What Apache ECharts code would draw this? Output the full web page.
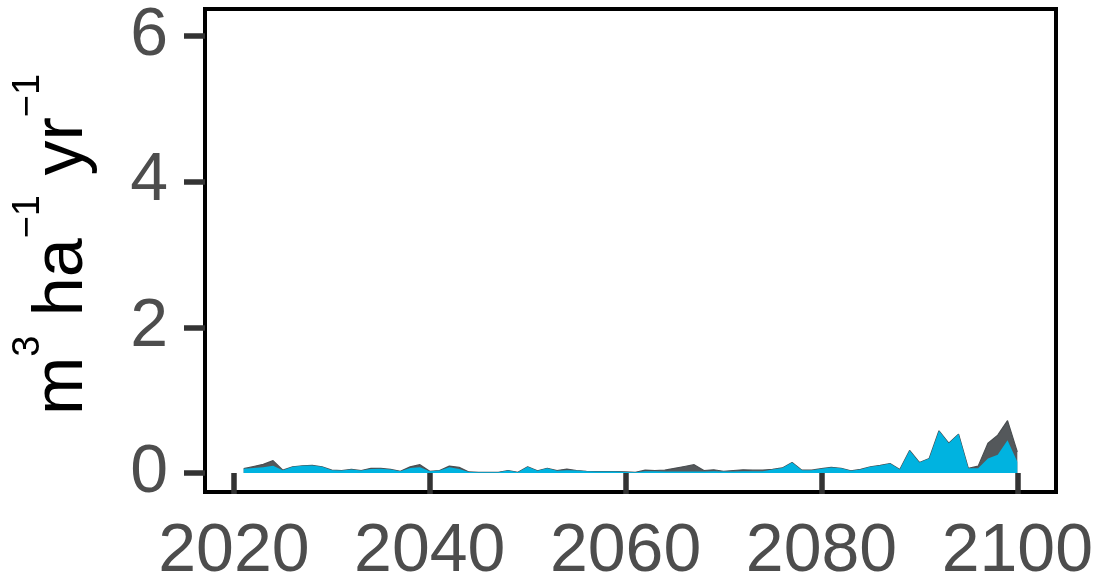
<!DOCTYPE html>
<html>
<head>
<meta charset="utf-8">
<script src="https://cdn.jsdelivr.net/npm/echarts@6/dist/echarts.min.js"></script>
<style>
  html, body { margin: 0; padding: 0; background: #fff; }
  #chart { width: 1097px; height: 580px; }
</style>
</head>
<body>
<div id="chart"></div>
<script>
// Years of the projection
const years = [];
for (let y = 2021; y <= 2100; y++) years.push(y);

// Total volume (grey area), m3 per ha per year
const totalValues = [
  0.06, 0.09, 0.12, 0.17, 0.04, 0.085, 0.10, 0.105, 0.085, 0.04,
  0.035, 0.05, 0.035, 0.065, 0.065, 0.05, 0.025, 0.085, 0.115, 0.025,
  0.035, 0.095, 0.08, 0.015, 0.01, 0.01, 0.01, 0.035, 0.01, 0.085,
  0.03, 0.065, 0.035, 0.055, 0.035, 0.025, 0.02, 0.02, 0.02, 0.015,
  0.01, 0.04, 0.035, 0.04, 0.065, 0.09, 0.115, 0.035, 0.045, 0.025,
  0.035, 0.045, 0.04, 0.04, 0.05, 0.07, 0.145, 0.04, 0.04, 0.06,
  0.078, 0.065, 0.03, 0.05, 0.087, 0.105, 0.13, 0.05, 0.31, 0.145,
  0.20, 0.58, 0.41, 0.535, 0.065, 0.095, 0.41, 0.52, 0.72, 0.29
];

// Share of the volume shown in blue
const blueValues = [
  0.06, 0.07, 0.08, 0.10, 0.04, 0.085, 0.10, 0.105, 0.085, 0.04,
  0.035, 0.05, 0.035, 0.055, 0.06, 0.05, 0.025, 0.07, 0.08, 0.025,
  0.035, 0.08, 0.055, 0.015, 0.01, 0.01, 0.01, 0.035, 0.01, 0.085,
  0.03, 0.065, 0.03, 0.04, 0.035, 0.025, 0.02, 0.02, 0.02, 0.015,
  0.01, 0.025, 0.025, 0.02, 0.02, 0.02, 0.02, 0.02, 0.025, 0.02,
  0.02, 0.025, 0.025, 0.025, 0.05, 0.07, 0.145, 0.04, 0.04, 0.06,
  0.078, 0.065, 0.03, 0.05, 0.087, 0.105, 0.13, 0.05, 0.31, 0.145,
  0.20, 0.58, 0.41, 0.535, 0.065, 0.065, 0.20, 0.25, 0.45, 0.155
];

const xTicks = [2020, 2040, 2060, 2080, 2100];
const yTicks = [0, 2, 4, 6];

const toPairs = vals => years.map((y, i) => [y, vals[i]]);

const chart = echarts.init(document.getElementById('chart'), null, { renderer: 'canvas' });

const tickLabelStyle = {
  fontFamily: 'Liberation Sans, Arial, sans-serif',
  fontSize: 68,
  color: '#4d4d4d'
};

chart.setOption({
  animation: false,
  backgroundColor: '#ffffff',
  grid: {
    left: 205, right: 41, top: 9, bottom: 88,
    outerBoundsMode: 'none',
    containLabel: false,
    show: true,
    borderColor: '#000000',
    borderWidth: 4,
    backgroundColor: 'transparent'
  },
  xAxis: {
    type: 'value',
    min: 2017.05,
    max: 2103.95,
    axisLine: { show: false },
    splitLine: { show: false },
    axisTick: {
      show: true, length: 21, customValues: xTicks,
      lineStyle: { color: '#333333', width: 5.5 }
    },
    axisLabel: Object.assign({
      margin: 26,
      customValues: xTicks,
      formatter: v => String(v)
    }, tickLabelStyle)
  },
  yAxis: {
    type: 'value',
    min: -0.26,
    max: 6.37,
    axisLine: { show: false },
    splitLine: { show: false },
    axisTick: {
      show: true, length: 21, customValues: yTicks,
      lineStyle: { color: '#333333', width: 5.5 }
    },
    axisLabel: Object.assign({ margin: 37, customValues: yTicks }, tickLabelStyle),
    name: '{m|m}{s|3}{m| ha}{s|\u22121}{m| yr}{s|\u22121}',
    nameLocation: 'middle',
    nameRotate: 90,
    nameGap: 107,
    nameTextStyle: {
      padding: [0, 0, 0, 12],
      rich: {
        m: {
          fontFamily: 'Liberation Sans, Arial, sans-serif',
          fontSize: 70, lineHeight: 88, color: '#000000', verticalAlign: 'bottom'
        },
        s: {
          fontFamily: 'Liberation Sans, Arial, sans-serif',
          fontSize: 38, lineHeight: 38, color: '#000000', verticalAlign: 'top'
        }
      }
    }
  },
  series: [
    {
      name: 'total',
      type: 'line',
      data: toPairs(totalValues),
      showSymbol: false,
      lineStyle: { color: '#4a4e51', width: 1.2 },
      itemStyle: { color: '#54585b' },
      areaStyle: { color: '#54585b', opacity: 1 },
      z: 2
    },
    {
      name: 'blue',
      type: 'line',
      data: toPairs(blueValues),
      showSymbol: false,
      lineStyle: { width: 0 },
      itemStyle: { color: '#00b3e0' },
      areaStyle: { color: '#00b3e0', opacity: 1 },
      z: 3
    }
  ]
});
</script>
</body>
</html>
